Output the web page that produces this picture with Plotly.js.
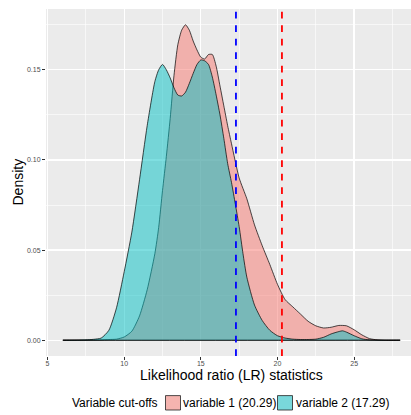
<!DOCTYPE html>
<html>
<head>
<meta charset="utf-8">
<script src="https://cdn.plot.ly/plotly-3.0.1.min.js"></script>
<style>
  html, body { margin: 0; padding: 0; overflow: hidden; background: #ffffff; }
  #chart { width: 417px; height: 415px; }
</style>
</head>
<body>
<div id="chart"></div>
<script>
// Kernel density of the LR statistic for each variable
const seriesNames = ["variable 1", "variable 2"];
const cutoffs = [20.29, 17.29];

const lrV1 = [6, 7, 8, 8.5, 9, 9.5, 10, 10.5, 11, 11.5, 12, 12.25, 12.5, 12.75, 13, 13.25, 13.5, 13.75,
  14, 14.25, 14.5, 14.75, 15, 15.25, 15.5, 15.75, 16, 16.25, 16.5, 16.75, 17, 17.5, 18, 18.5, 19, 19.5,
  20, 20.5, 21, 21.5, 22, 22.5, 23, 23.5, 24, 24.5, 25, 25.5, 26, 26.5, 27, 28];
const densityV1 = [0, 0, 0.0001, 0.0002, 0.0004, 0.0006, 0.0018, 0.0050, 0.0135, 0.028, 0.048, 0.0626,
  0.083, 0.102, 0.123, 0.147, 0.164, 0.172, 0.175, 0.172, 0.166, 0.161, 0.157, 0.156, 0.1585, 0.1585,
  0.152, 0.141, 0.130, 0.119, 0.109, 0.090, 0.0785, 0.0640, 0.0525, 0.042, 0.031, 0.0225, 0.0185, 0.0145,
  0.0105, 0.008, 0.0068, 0.0072, 0.0082, 0.008, 0.0058, 0.003, 0.0009, 0.0002, 0, 0];

const lrV2 = [6, 7, 7.5, 8, 8.5, 9, 9.5, 10, 10.5, 11, 11.5, 12, 12.25, 12.5, 12.75, 13, 13.25, 13.5,
  13.75, 14, 14.25, 14.5, 14.75, 15, 15.25, 15.5, 15.75, 16, 16.25, 16.5, 16.75, 17, 17.25, 17.5, 17.75,
  18, 18.5, 19, 19.5, 20, 20.5, 21, 21.5, 22, 22.5, 23, 23.5, 24, 24.25, 24.5, 25, 25.5, 26, 27, 28];
const densityV2 = [0, 0.0001, 0.0002, 0.0005, 0.0012, 0.0055, 0.018, 0.038, 0.060, 0.089, 0.119, 0.1435,
  0.150, 0.153, 0.150, 0.1455, 0.140, 0.136, 0.1355, 0.1376, 0.1425, 0.148, 0.153, 0.1555, 0.155, 0.153,
  0.146, 0.136, 0.125, 0.112, 0.098, 0.0875, 0.0755, 0.063, 0.048, 0.035, 0.0195, 0.011, 0.0055, 0.0025,
  0.0012, 0.0006, 0.0004, 0.0004, 0.0006, 0.0016, 0.0035, 0.0048, 0.0052, 0.0045, 0.0025, 0.0008, 0.0002, 0, 0];

const xTicks = [5, 10, 15, 20, 25];
const yTicks = [0, 0.05, 0.10, 0.15];
const yTickText = ["0.00", "0.05", "0.10", "0.15"];
const xTitle = "Likelihood ratio (LR) statistics";
const yTitle = "Density";
const legendTitle = "Variable cut-offs";

const fills = ["rgba(248,118,109,0.5)", "rgba(0,191,196,0.5)"];
const keyFills = ["rgb(245,180,175)", "rgb(121,216,219)"];
const cutColors = ["#FF0000", "#0000FF"];

const FONT = '"Liberation Sans", Arial, Helvetica, sans-serif';
const W = 417, H = 415;
const M = { l: 46, r: 0, t: 9, b: 59 };
const PW = W - M.l - M.r, PH = H - M.t - M.b;
const px = v => (v - M.l) / PW;          // pixel column -> paper x
const py = v => (M.t + PH - v) / PH;     // pixel row -> paper y

// closed outline so the baseline is stroked too
function outline(xs, ys) {
  return { x: xs.concat([xs[0]]), y: ys.concat([0]) };
}

const curves = [[lrV1, densityV1], [lrV2, densityV2]];
const traces = curves.map((c, i) => {
  const o = outline(c[0], c[1]);
  return {
    type: "scatter", mode: "lines", x: o.x, y: o.y,
    fill: "toself", fillcolor: fills[i],
    line: { color: "#000000", width: 0.7, shape: "spline", smoothing: 0.6 },
    name: seriesNames[i], showlegend: false, hoverinfo: "skip"
  };
});

const shapes = cutoffs.map((c, i) => ({
  type: "line", xref: "x", yref: "paper", x0: c, x1: c, y0: 0, y1: 1,
  line: { color: cutColors[i], width: 1.8, dash: "6.7px,6.8px" }, layer: "above"
}));

const titleFont = { family: FONT, size: 14, color: "#000000" };
const annotations = [
  { xref: "paper", yref: "paper", x: 0.5, y: py(374.6), xanchor: "center", yanchor: "middle",
    text: xTitle, showarrow: false, borderpad: 0, font: titleFont },
  { xref: "paper", yref: "paper", x: px(17), y: 0.5, xanchor: "center", yanchor: "middle",
    text: yTitle, textangle: -90, showarrow: false, borderpad: 0, font: titleFont }
];

// legend drawn below the panel
const legendRow = 402.8;
const keyLeft = [165.5, 277.5];
const labelLeft = [181.5, 294.5];
annotations.push({
  xref: "paper", yref: "paper", x: px(71.2), y: py(legendRow), xanchor: "left", yanchor: "middle",
  text: legendTitle, showarrow: false, borderpad: 0,
  font: { family: FONT, size: 12, color: "#000000" }
});
seriesNames.forEach((n, i) => {
  shapes.push({
    type: "rect", xref: "paper", yref: "paper",
    x0: px(keyLeft[i]), x1: px(keyLeft[i] + 15), y0: py(legendRow + 7.2), y1: py(legendRow - 7.2),
    fillcolor: keyFills[i], line: { color: "#222222", width: 0.8 }
  });
  annotations.push({
    xref: "paper", yref: "paper", x: px(labelLeft[i]), y: py(legendRow), xanchor: "left", yanchor: "middle",
    text: n + " (" + cutoffs[i].toFixed(2) + ")", showarrow: false, borderpad: 0,
    font: { family: FONT, size: 12, color: "#000000" }
  });
});

const axisCommon = {
  showline: false, zeroline: false, ticks: "outside", ticklen: 3, tickwidth: 1, tickcolor: "#333333",
  tickfont: { family: FONT, size: 7, color: "#4D4D4D" },
  showgrid: true, gridcolor: "#FFFFFF", gridwidth: 1.3
};

const layout = {
  width: W, height: H, margin: M,
  paper_bgcolor: "#FFFFFF", plot_bgcolor: "#EBEBEB",
  font: { family: FONT },
  showlegend: false,
  xaxis: Object.assign({}, axisCommon, {
    range: [4.9, 29.1], tickvals: xTicks, ticktext: xTicks.map(String), ticklabelstandoff: -2,
    minor: { tickvals: [7.5, 12.5, 17.5, 22.5, 27.5], showgrid: true, gridcolor: "#FFFFFF", gridwidth: 0.6, ticks: "" }
  }),
  yaxis: Object.assign({}, axisCommon, {
    range: [-0.00875, 0.18375], tickvals: yTicks, ticktext: yTickText,
    minor: { tickvals: [0.025, 0.075, 0.125, 0.175], showgrid: true, gridcolor: "#FFFFFF", gridwidth: 0.6, ticks: "" }
  }),
  shapes: shapes,
  annotations: annotations
};

Plotly.newPlot("chart", traces, layout, { displayModeBar: false, staticPlot: true });
</script>
</body>
</html>
